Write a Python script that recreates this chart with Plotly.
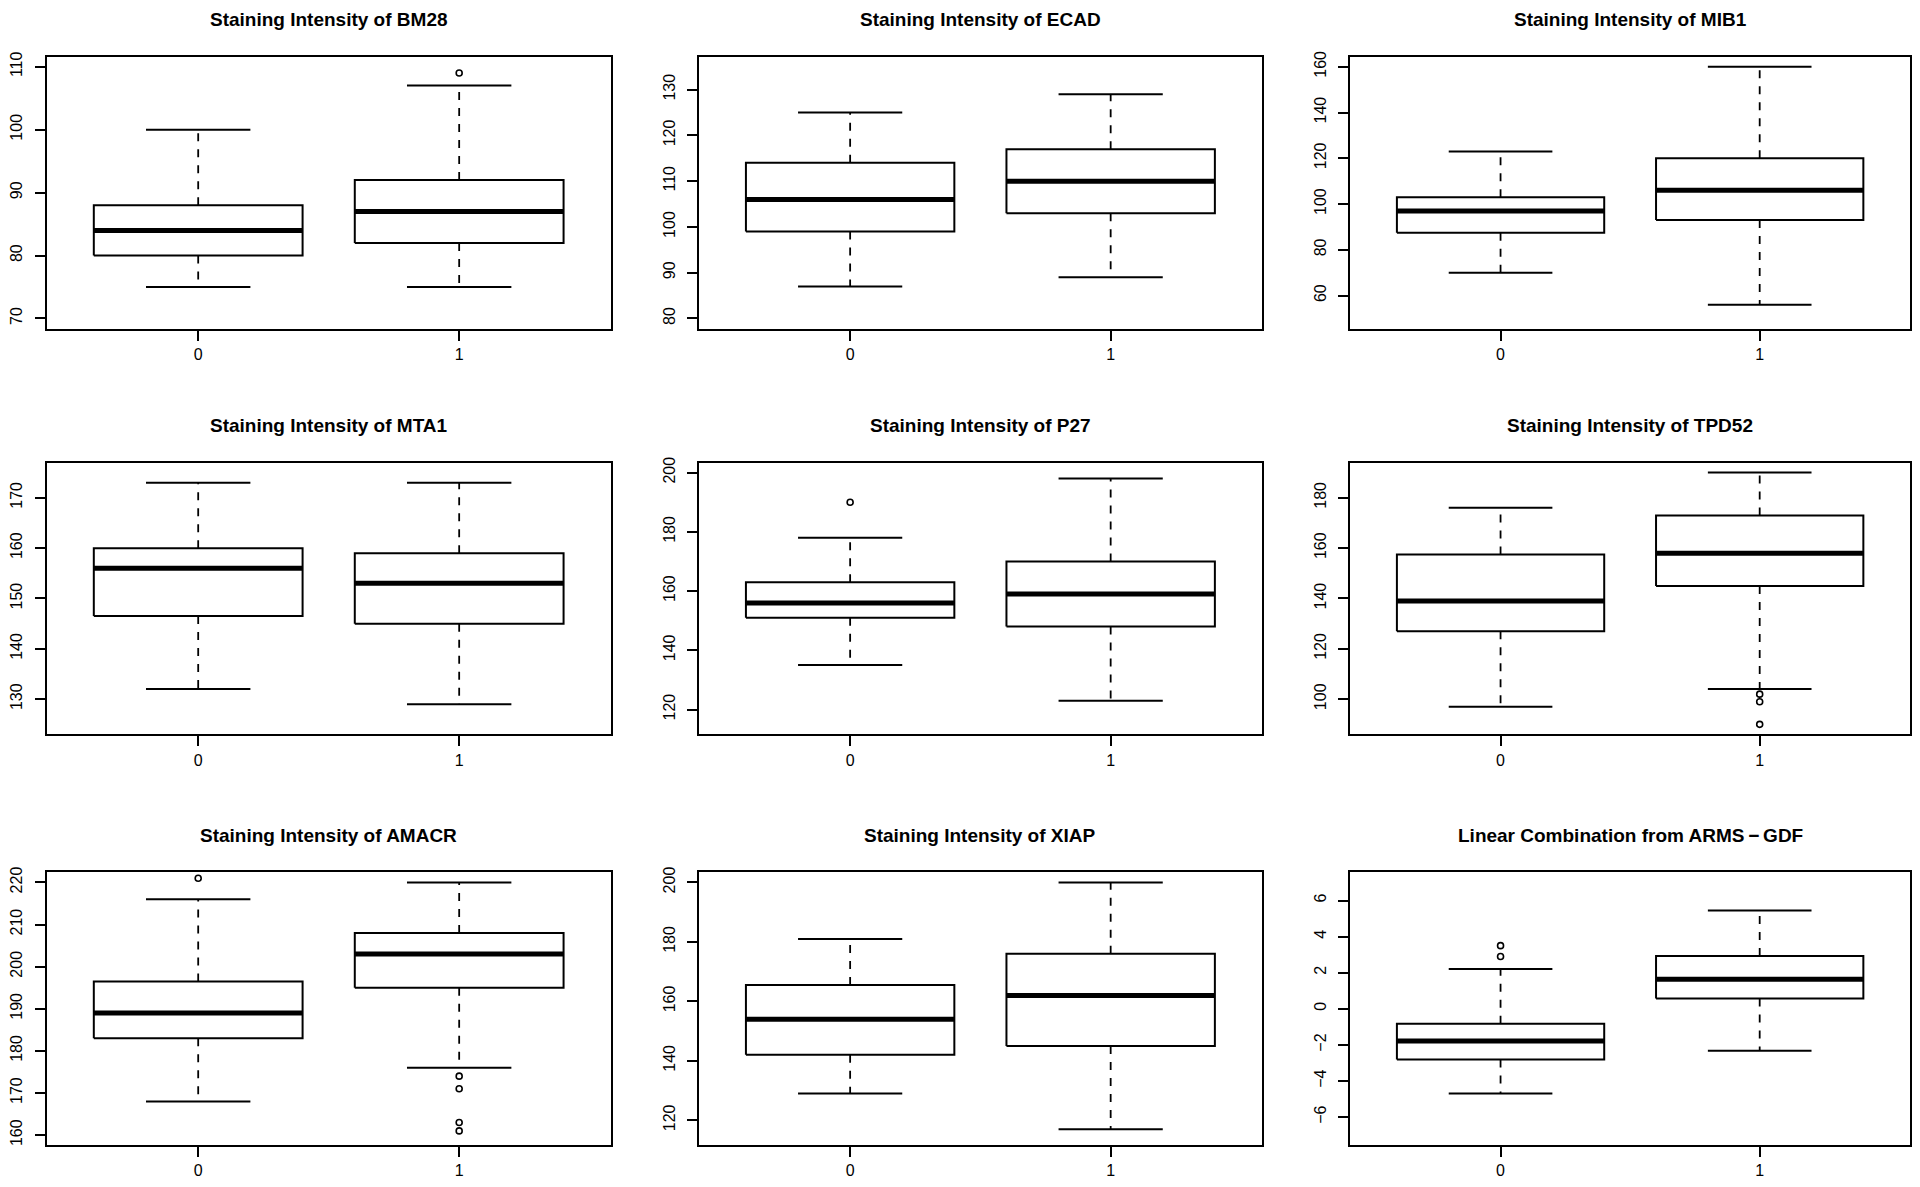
import plotly.graph_objects as go

# ---------------- data ----------------
titles = [
    "Staining Intensity of BM28", "Staining Intensity of ECAD", "Staining Intensity of MIB1",
    "Staining Intensity of MTA1", "Staining Intensity of P27", "Staining Intensity of TPD52",
    "Staining Intensity of AMACR", "Staining Intensity of XIAP",
    "Linear Combination from ARMS\u2009\u2212\u2009GDF",
]
group_labels = ["0", "1"]

g0_lower = [75, 87, 70, 132, 135, 97, 168, 129, -4.69]
g0_q1 = [80, 99, 87.5, 146.5, 151, 127, 183, 142, -2.81]
g0_med = [84, 106, 97, 156, 156, 139, 189, 154, -1.78]
g0_q3 = [88, 114, 103, 160, 163, 157.5, 196.5, 165.5, -0.83]
g0_upper = [100, 125, 123, 173, 178, 176, 216, 181, 2.2]
g0_out = [[], [], [], [], [190], [], [221], [], [3.5, 2.9]]

g1_lower = [75, 89, 56, 129, 123, 104, 176, 117, -2.33]
g1_q1 = [82, 103, 93, 145, 148, 145, 195, 145, 0.57]
g1_med = [87, 110, 106, 153, 159, 158, 203, 162, 1.64]
g1_q3 = [92, 117, 120, 159, 170, 173, 208, 176, 2.92]
g1_upper = [107, 129, 160, 173, 198, 190, 220, 200, 5.45]
g1_out = [[109], [], [], [], [], [102, 99, 90], [174, 171, 163, 161], [], []]

ylim_lo = [70, 80, 50, 125, 115, 90, 160, 115, -7]
ylim_hi = [110, 135, 160, 175, 200, 190, 220, 200, 7]
ytick_step = [10, 10, 20, 10, 20, 20, 10, 20, 2]

# ---------------- layout geometry ----------------
W, H = 1920, 1187
OFF = 8                      # default page (body) margin around the figure
FW, FH = W - 2 * OFF, H - 2 * OFF
col_px = [(38, 605), (694, 1260), (1349, 1912)]
row_px = [(51, 325), (460, 734), (873, 1148)]
FONT = "Liberation Sans, Arial, Helvetica, sans-serif"


def fx(px):
    return (px - OFF) / FW


def fy(py):
    return 1 - (py - OFF) / FH


fig = go.Figure()
layout = {}
annotations = []

groups = [
    (g0_lower, g0_q1, g0_med, g0_q3, g0_upper, g0_out),
    (g1_lower, g1_q1, g1_med, g1_q3, g1_upper, g1_out),
]

for i in range(9):
    r, c = divmod(i, 3)
    ax = "" if i == 0 else str(i + 1)
    xa, ya = "x" + ax, "y" + ax
    for gi, (lo, q1, md, q3, up, outs) in enumerate(groups):
        cx = gi + 1
        hw = 0.4
        sw = 0.2
        # dashed whiskers
        fig.add_trace(go.Scatter(
            x=[cx, cx, None, cx, cx], y=[q3[i], up[i], None, q1[i], lo[i]],
            mode="lines", line=dict(color="black", width=1.8, dash="8px,8px"),
            xaxis=xa, yaxis=ya, showlegend=False, hoverinfo="skip"))
        # staples
        fig.add_trace(go.Scatter(
            x=[cx - sw, cx + sw, None, cx - sw, cx + sw], y=[up[i], up[i], None, lo[i], lo[i]],
            mode="lines", line=dict(color="black", width=2),
            xaxis=xa, yaxis=ya, showlegend=False, hoverinfo="skip"))
        # box
        fig.add_trace(go.Scatter(
            x=[cx - hw, cx + hw, cx + hw, cx - hw, cx - hw],
            y=[q1[i], q1[i], q3[i], q3[i], q1[i]],
            mode="lines", line=dict(color="black", width=2), fill="toself", fillcolor="white",
            xaxis=xa, yaxis=ya, showlegend=False, hoverinfo="skip"))
        # median
        fig.add_trace(go.Scatter(
            x=[cx - hw, cx + hw], y=[md[i], md[i]],
            mode="lines", line=dict(color="black", width=5),
            xaxis=xa, yaxis=ya, showlegend=False, hoverinfo="skip"))
        # outliers
        if outs[i]:
            fig.add_trace(go.Scatter(
                x=[cx] * len(outs[i]), y=outs[i], mode="markers",
                marker=dict(symbol="circle-open", size=6, color="black", line=dict(width=1.6)),
                xaxis=xa, yaxis=ya, showlegend=False, hoverinfo="skip"))

    x0, x1 = col_px[c]
    y0, y1 = row_px[r]
    span = ylim_hi[i] - ylim_lo[i]
    common = dict(showline=True, mirror=True, linecolor="black", linewidth=2,
                  ticks="outside", ticklen=10, tickwidth=2, tickcolor="black",
                  showgrid=False, zeroline=False, fixedrange=True,
                  tickfont=dict(family=FONT, size=16, color="black"))
    layout["xaxis" + ax] = dict(
        domain=[fx(x0), fx(x1)], anchor=ya,
        range=[0.5 - 0.08, 2.5 + 0.08], tickmode="array", tickvals=[1, 2],
        ticktext=group_labels, ticklabelstandoff=0, **common)
    layout["yaxis" + ax] = dict(
        domain=[fy(y1), fy(y0)], anchor=xa,
        range=[ylim_lo[i] - 0.04 * span, ylim_hi[i] + 0.04 * span],
        tick0=0, dtick=ytick_step[i], tickangle=-90, ticklabelstandoff=6, **common)
    annotations.append(dict(
        text="<b>" + titles[i] + "</b>", xref="paper", yref="paper",
        x=fx((x0 + x1) / 2), y=fy(y0 - 37), xanchor="center", yanchor="middle",
        showarrow=False, font=dict(family=FONT, size=19, color="black")))

fig.update_layout(
    width=FW, height=FH, margin=dict(l=0, r=0, t=0, b=0),
    paper_bgcolor="white", plot_bgcolor="white",
    annotations=annotations, **layout)

fig.write_html("out.html")
